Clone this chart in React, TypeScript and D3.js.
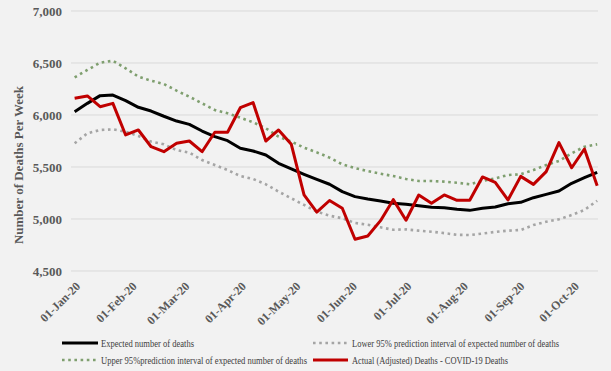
import React from 'react';
import * as d3 from 'd3';

// week ending dates
const weeks = [
  '2020-01-03', '2020-01-10', '2020-01-17', '2020-01-24', '2020-01-31',
  '2020-02-07', '2020-02-14', '2020-02-21', '2020-02-28', '2020-03-06',
  '2020-03-13', '2020-03-20', '2020-03-27', '2020-04-03', '2020-04-10',
  '2020-04-17', '2020-04-24', '2020-05-01', '2020-05-08', '2020-05-15',
  '2020-05-22', '2020-05-29', '2020-06-05', '2020-06-12', '2020-06-19',
  '2020-06-26', '2020-07-03', '2020-07-10', '2020-07-17', '2020-07-24',
  '2020-07-31', '2020-08-07', '2020-08-14', '2020-08-21', '2020-08-28',
  '2020-09-04', '2020-09-11', '2020-09-18', '2020-09-25', '2020-10-02',
  '2020-10-09', '2020-10-16',
];

const expected = [
  6032, 6112, 6186, 6192, 6138, 6074, 6038, 5988, 5942, 5910,
  5846, 5792, 5753, 5680, 5654, 5615, 5535, 5481, 5430, 5382,
  5334, 5263, 5215, 5192, 5173, 5151, 5141, 5128, 5112, 5109,
  5093, 5083, 5103, 5115, 5147, 5160, 5205, 5237, 5269, 5343,
  5397, 5449,
];

const lower = [
  5728, 5824, 5856, 5862, 5840, 5798, 5744, 5718, 5663, 5638,
  5567, 5519, 5471, 5413, 5385, 5334, 5263, 5199, 5135, 5071,
  5032, 5007, 4962, 4945, 4920, 4896, 4900, 4888, 4878, 4864,
  4848, 4846, 4860, 4876, 4888, 4894, 4942, 4974, 4997, 5038,
  5087, 5176,
];

const upper = [
  6362, 6433, 6503, 6522, 6449, 6369, 6330, 6298, 6234, 6176,
  6112, 6048, 6016, 5974, 5930, 5872, 5792, 5744, 5686, 5641,
  5590, 5526, 5490, 5460, 5435, 5413, 5385, 5365, 5365, 5359,
  5349, 5334, 5365, 5391, 5423, 5430, 5471, 5519, 5558, 5632,
  5695, 5718,
];

const actual = [
  6161, 6183, 6080, 6112, 5808, 5856, 5695, 5647, 5728, 5750,
  5647, 5834, 5834, 6070, 6120, 5750, 5856, 5718, 5231, 5066,
  5178, 5103, 4805, 4837, 4984, 5186, 4988, 5231, 5151, 5231,
  5180, 5180, 5404, 5353, 5183, 5410, 5333, 5455, 5734, 5493,
  5673, 5320,
];

const yTicks = [4500, 5000, 5500, 6000, 6500, 7000];

const seriesNames = [
  'Expected number of deaths',
  'Lower 95% prediction interval of expected number of deaths',
  'Upper 95%prediction interval of expected number of deaths',
  'Actual (Adjusted) Deaths - COVID-19 Deaths',
];

const W = 611;
const H = 371;
const serif = '"Liberation Serif", "Times New Roman", serif';

export default function App() {
  const dates = weeks.map((d) => new Date(d + 'T00:00:00Z'));

  const x = d3
    .scaleUtc()
    .domain([new Date(Date.UTC(2020, 0, 1)), new Date(Date.UTC(2020, 9, 17))])
    .range([71, 599]);
  const y = d3.scaleLinear().domain([4500, 7000]).range([271, 11]);

  const line = (vals: number[]) =>
    d3
      .line<number>()
      .x((_, i) => x(dates[i]))
      .y((v) => y(v))(vals) || '';

  const months = d3.utcMonth.range(
    new Date(Date.UTC(2020, 0, 1)),
    new Date(Date.UTC(2020, 9, 2))
  );
  const fmt = d3.utcFormat('%d-%b-%y');

  const styles = [
    { stroke: '#000000', width: 3, dash: undefined as string | undefined },
    { stroke: '#a5a5a5', width: 2.6, dash: '2.6 3.6' },
    { stroke: '#7f9f6f', width: 2.6, dash: '2.6 3.6' },
    { stroke: '#c00000', width: 3, dash: undefined as string | undefined },
  ];
  const seriesData = [expected, lower, upper, actual];

  // legend placement
  const legend = [
    { x0: 62, x1: 98, tx: 101, ty: 343, w: 93 },
    { x0: 313, x1: 348, tx: 352, ty: 343, w: 207 },
    { x0: 62, x1: 98, tx: 101, ty: 360, w: 206 },
    { x0: 313, x1: 348, tx: 352, ty: 360, w: 156 },
  ];

  return (
    <svg
      width={W}
      height={H}
      style={{ position: 'absolute', left: 0, top: 0, background: '#f2f2f2' }}
    >
      <rect x={0} y={0} width={W} height={H} fill="#f2f2f2" />
      {/* gridlines */}
      {yTicks.map((t) => (
        <line
          key={t}
          x1={71}
          x2={598}
          y1={y(t)}
          y2={y(t)}
          stroke="#d9d9d9"
          strokeWidth={1}
        />
      ))}
      {/* y tick labels */}
      {yTicks.map((t) => (
        <text
          key={'l' + t}
          x={62}
          y={y(t)}
          dy="0.35em"
          textAnchor="end"
          fontFamily={serif}
          fontWeight="bold"
          fontSize={13}
          fill="#595959"
        >
          {d3.format(',')(t)}
        </text>
      ))}
      {/* y title */}
      <text
        transform="translate(23,165) rotate(-90)"
        textAnchor="middle"
        fontFamily={serif}
        fontWeight="bold"
        fontSize={13}
        fill="#595959"
      >
        Number of Deaths Per Week
      </text>
      {/* x tick labels */}
      {months.map((m) => (
        <text
          key={m.toISOString()}
          transform={`translate(${x(m) + 4},${281}) rotate(-45)`}
          textAnchor="end"
          dy="0.7em"
          fontFamily={serif}
          fontWeight="bold"
          fontSize={12}
          fill="#595959"
        >
          {fmt(m)}
        </text>
      ))}
      {/* series */}
      {seriesData.map((vals, i) => (
        <path
          key={i}
          d={line(vals)}
          fill="none"
          stroke={styles[i].stroke}
          strokeWidth={styles[i].width}
          strokeDasharray={styles[i].dash}
          strokeLinejoin="round"
        />
      ))}
      {/* legend */}
      {legend.map((l, i) => (
        <g key={'lg' + i}>
          <line
            x1={l.x0}
            x2={l.x1}
            y1={l.ty}
            y2={l.ty}
            stroke={styles[i].stroke}
            strokeWidth={styles[i].width}
            strokeDasharray={styles[i].dash}
          />
          <text
            x={l.tx}
            y={l.ty}
            dy="0.35em"
            fontFamily={serif}
            fontSize={10}
            fill="#404040"
            textLength={l.w}
            lengthAdjust="spacingAndGlyphs"
          >
            {seriesNames[i]}
          </text>
        </g>
      ))}
    </svg>
  );
}
